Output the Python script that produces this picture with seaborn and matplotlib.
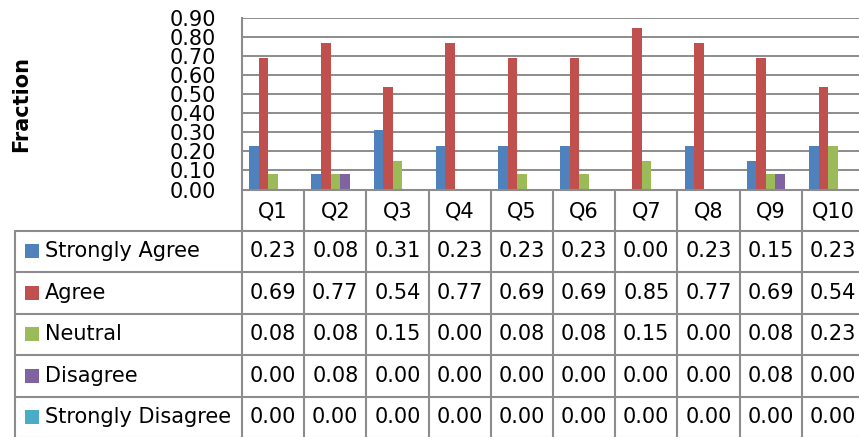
import matplotlib
matplotlib.use("Agg")
import matplotlib.pyplot as plt
import pandas as pd
import seaborn as sns
from matplotlib.lines import Line2D
from matplotlib.patches import Rectangle

# ---- data ----
questions = ["Q1", "Q2", "Q3", "Q4", "Q5", "Q6", "Q7", "Q8", "Q9", "Q10"]
responses = ["Strongly Agree", "Agree", "Neutral", "Disagree", "Strongly Disagree"]
strongly_agree = [0.23, 0.08, 0.31, 0.23, 0.23, 0.23, 0.00, 0.23, 0.15, 0.23]
agree = [0.69, 0.77, 0.54, 0.77, 0.69, 0.69, 0.85, 0.77, 0.69, 0.54]
neutral = [0.08, 0.08, 0.15, 0.00, 0.08, 0.08, 0.15, 0.00, 0.08, 0.23]
disagree = [0.00, 0.08, 0.00, 0.00, 0.00, 0.00, 0.00, 0.00, 0.08, 0.00]
strongly_disagree = [0.00, 0.00, 0.00, 0.00, 0.00, 0.00, 0.00, 0.00, 0.00, 0.00]
y_ticks = [0.00, 0.10, 0.20, 0.30, 0.40, 0.50, 0.60, 0.70, 0.80, 0.90]

series = [strongly_agree, agree, neutral, disagree, strongly_disagree]
colors = ["#4F81BD", "#C0504D", "#9BBB59", "#8064A2", "#4BACC6"]

df = pd.DataFrame(
    [(q, r, v) for r, vals in zip(responses, series) for q, v in zip(questions, vals)],
    columns=["Question", "Response", "Fraction"],
)

# ---- style ----
sns.set_style("white")
plt.rcParams["font.family"] = ["DejaVu Sans"]
plt.rcParams["text.color"] = "black"
plt.rcParams["ytick.color"] = "black"
plt.rcParams["ytick.labelcolor"] = "black"
FS = 15
LINE_C = "#8c8c8c"

W, H = 859, 437
fig = plt.figure(figsize=(W / 100, H / 100), dpi=100)


def fx(px):
    return px / W


def fy(py):
    return 1 - py / H


plot_left, plot_right, plot_top, plot_bottom = 242, 864, 18, 189.5
ax = fig.add_axes([fx(plot_left), fy(plot_bottom),
                   fx(plot_right) - fx(plot_left), fy(plot_top) - fy(plot_bottom)])

sns.barplot(data=df, x="Question", y="Fraction", hue="Response",
            hue_order=responses, order=questions, palette=colors,
            width=0.77, saturation=1, linewidth=0, legend=False, ax=ax,
            errorbar=None)

ax.set_xlim(-0.5, len(questions) - 0.5)
ax.set_ylim(0, 0.9)
ax.set_yticks(y_ticks)
ax.set_yticklabels([f"{t:.2f}" for t in y_ticks], fontsize=FS, color="black")
ax.set_xticks([])
ax.set_xlabel("")
ax.set_ylabel("")
ax.tick_params(axis="y", length=0, pad=18.5)
ax.set_axisbelow(True)
ax.yaxis.grid(True, color=LINE_C, linewidth=1.4)
ax.xaxis.grid(False)
for side in ["top", "right", "bottom"]:
    ax.spines[side].set_visible(False)
ax.spines["left"].set_color(LINE_C)
ax.spines["left"].set_linewidth(1.5)

fig.text(fx(21), fy(104), "Fraction", rotation=90, ha="center", va="center",
         fontsize=15, fontweight="bold", color="black")

# ---- data table below the plot ----
tab = fig.add_axes([0, 0, 1, 1])
tab.set_xlim(0, W)
tab.set_ylim(H, 0)
tab.axis("off")
tab.patch.set_alpha(0)

# column edges follow the bar axis categories
col_edges = [ax.transData.transform((i - 0.5, 0))[0] for i in range(len(questions) + 1)]
table_left = 15
header_top = plot_bottom
header_bot = 230.5
row_h = 41.5
row_edges = [header_bot + k * row_h for k in range(len(responses) + 1)]
bottom = row_edges[-1]


def hline(y, x0, x1):
    tab.add_line(Line2D([x0, x1], [y, y], color=LINE_C, lw=1.5, clip_on=False))


def vline(x, y0, y1):
    tab.add_line(Line2D([x, x], [y0, y1], color=LINE_C, lw=1.5, clip_on=False))


hline(header_top, col_edges[0], W + 10)
for y in row_edges:
    hline(y, table_left, W + 10)
vline(table_left, header_bot, bottom)
for x in col_edges:
    vline(x, header_top, bottom)

# header
for i, q in enumerate(questions):
    cx = (col_edges[i] + col_edges[i + 1]) / 2
    tab.text(cx, (header_top + header_bot) / 2 + 1, q, ha="center", va="center",
             fontsize=FS, color="black")

# rows
for r, (name, vals, c) in enumerate(zip(responses, series, colors)):
    cy = (row_edges[r] + row_edges[r + 1]) / 2
    tab.add_patch(Rectangle((25, cy - 7), 14, 14, facecolor=c, edgecolor="none"))
    tab.text(45, cy, name, ha="left", va="center", fontsize=FS, color="black")
    for i, v in enumerate(vals):
        cx = (col_edges[i] + col_edges[i + 1]) / 2
        tab.text(cx, cy, f"{v:.2f}", ha="center", va="center", fontsize=FS,
                 color="black")

fig.savefig("out.png", dpi=100)
